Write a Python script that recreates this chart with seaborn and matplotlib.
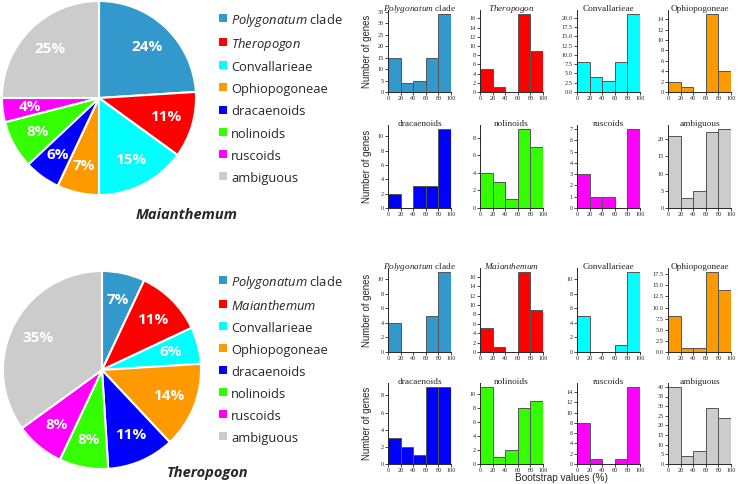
import matplotlib
matplotlib.use('Agg')
import matplotlib.pyplot as plt
import seaborn as sns
from matplotlib.lines import Line2D
from matplotlib.ticker import MultipleLocator

# pie data (percent of genes)
clades_maianthemum = [r'$\mathsf{Polygonatum}$ clade', r'$\mathsf{Theropogon}$', 'Convallarieae',
                      'Ophiopogoneae', 'dracaenoids', 'nolinoids', 'ruscoids', 'ambiguous']
clades_theropogon = [r'$\mathsf{Polygonatum}$ clade', r'$\mathsf{Maianthemum}$', 'Convallarieae',
                     'Ophiopogoneae', 'dracaenoids', 'nolinoids', 'ruscoids', 'ambiguous']
pct_maianthemum = [24, 11, 15, 7, 6, 8, 4, 25]
pct_theropogon = [7, 11, 6, 14, 11, 8, 8, 35]
clade_colors = ['#3399cc', '#ff0000', '#00ffff', '#ff9900',
                '#0000ff', '#33ff00', '#ff00ff', '#cccccc']

# histogram data: number of genes per bootstrap bin
bin_edges = [0, 20, 40, 60, 80, 100]
bin_centers = [10, 30, 50, 70, 90]

titles_row1 = [r'$\mathit{Polygonatum}$ clade', r'$\mathit{Theropogon}$', 'Convallarieae', 'Ophiopogoneae']
titles_row2 = ['dracaenoids', 'nolinoids', 'ruscoids', 'ambiguous']
titles_row3 = [r'$\mathit{Polygonatum}$ clade', r'$\mathit{Maianthemum}$', 'Convallarieae', 'Ophiopogoneae']
titles_row4 = ['dracaenoids', 'nolinoids', 'ruscoids', 'ambiguous']

counts_row1 = [[15, 4, 5, 15, 34], [5, 1, 0, 17, 9], [8, 4, 3, 8, 21], [2, 1, 0, 15, 4]]
counts_row2 = [[2, 0, 3, 3, 11], [4, 3, 1, 9, 7], [3, 1, 1, 0, 7], [21, 3, 5, 22, 23]]
counts_row3 = [[4, 0, 0, 5, 11], [5, 1, 0, 17, 9], [5, 0, 0, 1, 11], [8, 1, 1, 18, 14]]
counts_row4 = [[3, 2, 1, 9, 9], [11, 1, 2, 8, 9], [8, 1, 0, 1, 15], [40, 4, 7, 29, 24]]

colors_top = ['#3399cc', '#ff0000', '#00ffff', '#ff9900']
colors_bottom = ['#0000ff', '#33ff00', '#ff00ff', '#cccccc']

ystep_row1 = [5, 2, 2.5, 2]
ystep_row2 = [2, 2, 1, 5]
ystep_row3 = [2, 2, 2, 2.5]
ystep_row4 = [2, 2, 2, 5]

sns.set_style('ticks')
plt.rcParams['font.family'] = ['Open Sans', 'DejaVu Sans']
plt.rcParams['mathtext.fontset'] = 'custom'
plt.rcParams['mathtext.it'] = 'Liberation Serif:italic'
plt.rcParams['mathtext.rm'] = 'Liberation Serif'
plt.rcParams['mathtext.sf'] = 'Open Sans:italic'

W, H = 739, 484
fig = plt.figure(figsize=(W / 100, H / 100), dpi=100)


def px_axes(left, top, width, height):
    return fig.add_axes([left / W, 1 - (top + height) / H, width / W, height / H])


def draw_pie(ax, values, labels, title, title_xy, legend_xy):
    ax.pie(values, colors=clade_colors, startangle=90, counterclock=False,
           autopct=lambda p: f'{p:.0f}%', pctdistance=0.72,
           wedgeprops=dict(edgecolor='white', linewidth=1.5),
           textprops=dict(color='white', fontsize=11, fontweight='bold'))
    ax.set_xlim(-1.01, 1.01)
    ax.set_ylim(-1.01, 1.01)
    fig.text(title_xy[0] / W, 1 - title_xy[1] / H, title, ha='center', va='center',
             fontsize=10.5, fontweight='bold', fontstyle='italic')
    # square markers keep every legend row the same height
    handles = [Line2D([], [], marker='s', linestyle='', markersize=5.2,
                      markerfacecolor=col, markeredgewidth=0) for col in clade_colors]
    fig.legend(handles, labels, loc='upper left',
               bbox_to_anchor=(legend_xy[0] / W, 1 - legend_xy[1] / H),
               frameon=False, fontsize=9.3, handlelength=0.6, handleheight=1.45,
               handletextpad=0.35, labelspacing=0.52, borderpad=0, borderaxespad=0)


draw_pie(px_axes(1, 0, 196, 196), pct_maianthemum, clades_maianthemum,
         'Maianthemum', (187, 215), (219, 12))
draw_pie(px_axes(2, 270, 200, 200), pct_theropogon, clades_theropogon,
         'Theropogon', (208, 473), (219, 274))

col_left = [388, 480, 577, 668]
row_top = [10, 125, 268, 383]
row_height = [82, 83, 84, 81]
rows = [
    (titles_row1, counts_row1, colors_top, ystep_row1),
    (titles_row2, counts_row2, colors_bottom, ystep_row2),
    (titles_row3, counts_row3, colors_top, ystep_row3),
    (titles_row4, counts_row4, colors_bottom, ystep_row4),
]

for r, (titles, counts, colors, steps) in enumerate(rows):
    for c in range(4):
        ax = px_axes(col_left[c], row_top[r], 63, row_height[r])
        sns.histplot(x=bin_centers, weights=counts[c], bins=bin_edges, color=colors[c],
                     edgecolor='#555555', linewidth=0.7, alpha=1, ax=ax)
        ax.set_xlim(0, 100)
        ax.set_xlabel('')
        ax.set_ylabel('')
        ax.xaxis.set_major_locator(MultipleLocator(20))
        ax.yaxis.set_major_locator(MultipleLocator(steps[c]))
        sns.despine(ax=ax)
        for s in ['left', 'bottom']:
            ax.spines[s].set_linewidth(0.7)
        ax.tick_params(labelsize=4.5, length=2, width=0.6, pad=1,
                       labelfontfamily='Liberation Serif')
        # giving y turns off the automatic lift above the axes
        ax.set_title(titles[c], fontsize=6.7, family='Liberation Serif', y=1.0, pad=-0.5)
        if c == 0:
            ax.set_ylabel('Number of genes', family='Liberation Sans', fontsize=6.9)
            ax.yaxis.set_label_coords(-0.26, 0.5)

fig.text(561 / W, 1 - 478 / H, 'Bootstrap values (%)', ha='center', va='center',
         family='Liberation Sans', fontsize=7.2)

fig.savefig('out.png', dpi=100)
